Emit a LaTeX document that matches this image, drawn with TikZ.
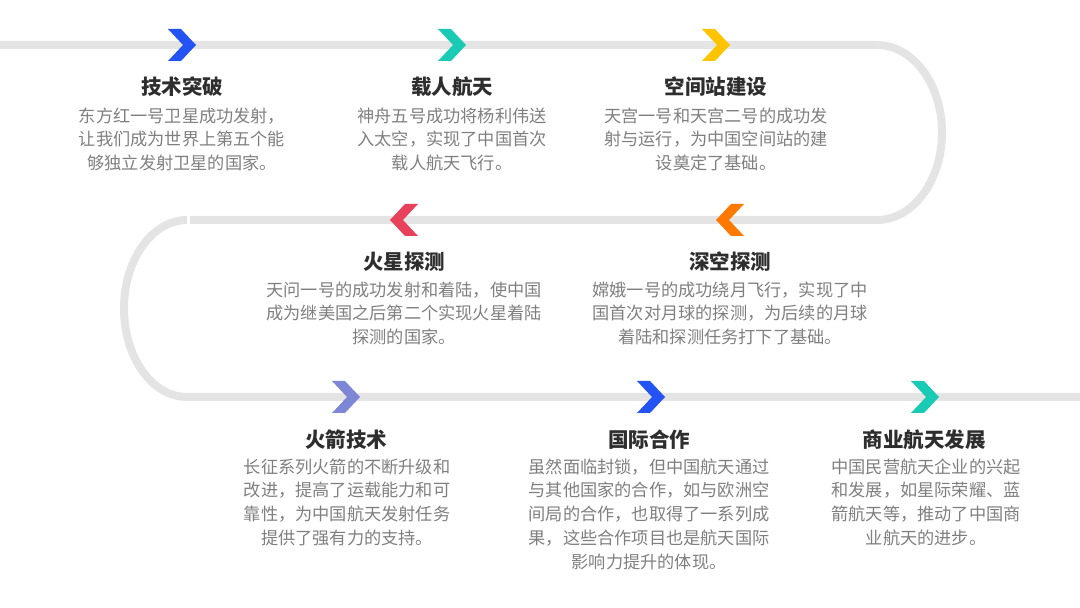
\documentclass[tikz,border=0pt]{standalone}
\usepackage{fontspec}
\newfontfamily\cjk{Noto Sans CJK SC}
\definecolor{track}{HTML}{E4E4E4}
\definecolor{cblue}{HTML}{2353F2}
\definecolor{cteal}{HTML}{19CBB5}
\definecolor{cyellow}{HTML}{FFC400}
\definecolor{corange}{HTML}{FF7800}
\definecolor{cred}{HTML}{E8415B}
\definecolor{cpurple}{HTML}{7E87D5}
\definecolor{ctitle}{HTML}{2E2E2E}
\definecolor{cbody}{HTML}{7F7F7F}
\tikzset{
  chevR/.pic={\fill (-14,16)--(-1,16)--(14,0)--(-1,-16)--(-14,-16)--(1,0)--cycle;},
  chevL/.pic={\fill (14,16)--(1,16)--(-14,0)--(1,-16)--(14,-16)--(-1,0)--cycle;},
  ttl/.style={inner sep=0pt, anchor=center, text=ctitle, font={\fontsize{20.5}{24}\selectfont\cjk\bfseries}},
  body/.style={inner sep=0pt, anchor=north, align=center, text=cbody, font={\fontsize{17.2}{23.7}\selectfont\cjk}},
  trk/.style={draw=track, line width=8pt}
}
\begin{document}
\begin{tikzpicture}[x=1pt,y=1pt]
\useasboundingbox (0,0) rectangle (1080,608);
% track
\draw[trk] (0,563) -- (877,563) arc[start angle=90, end angle=-90, x radius=65, y radius=87.5] -- (190,388);
\draw[trk] (187,388) arc[start angle=90, end angle=270, x radius=63, y radius=88.5] -- (1080,211);
% chevrons
\pic[color=cblue] at (182,563) {chevR};
\pic[color=cteal] at (452,563) {chevR};
\pic[color=cyellow] at (716,563) {chevR};
\pic[color=corange] at (730,388) {chevL};
\pic[color=cred] at (404,388) {chevL};
\pic[color=cpurple] at (346,211) {chevR};
\pic[color=cblue] at (651,211) {chevR};
\pic[color=cteal] at (925,211) {chevR};
% row 1
\node[ttl] (t1) at (182,521) {技术突破};
\node[body] (b1) at (182,500.6) {东方红一号卫星成功发射，\\让我们成为世界上第五个能\\够独立发射卫星的国家。};
\node[ttl] (t2) at (452,521) {载人航天};
\node[body] (b2) at (452,500.6) {神舟五号成功将杨利伟送\\入太空，实现了中国首次\\载人航天飞行。};
\node[ttl] (t3) at (716,521) {空间站建设};
\node[body] (b3) at (716,500.6) {天宫一号和天宫二号的成功发\\射与运行，为中国空间站的建\\设奠定了基础。};
% row 2
\node[ttl] (t4) at (404,346) {火星探测};
\node[body] (b4) at (404,326.6) {天问一号的成功发射和着陆，使中国\\成为继美国之后第二个实现火星着陆\\探测的国家。};
\node[ttl] (t5) at (730,346) {深空探测};
\node[body] (b5) at (730,326.6) {嫦娥一号的成功绕月飞行，实现了中\\国首次对月球的探测，为后续的月球\\着陆和探测任务打下了基础。};
% row 3
\node[ttl] (t6) at (346,168) {火箭技术};
\node[body] (b6) at (347,149.6) {长征系列火箭的不断升级和\\改进，提高了运载能力和可\\靠性，为中国航天发射任务\\提供了强有力的支持。};
\node[ttl] (t7) at (649,168) {国际合作};
\node[body] (b7) at (649,149.6) {虽然面临封锁，但中国航天通过\\与其他国家的合作，如与欧洲空\\间局的合作，也取得了一系列成\\果，这些合作项目也是航天国际\\影响力提升的体现。};
\node[ttl] (t8) at (924,168) {商业航天发展};
\node[body] (b8) at (926,149.6) {中国民营航天企业的兴起\\和发展，如星际荣耀、蓝\\箭航天等，推动了中国商\\业航天的进步。};
\end{tikzpicture}
\end{document}
